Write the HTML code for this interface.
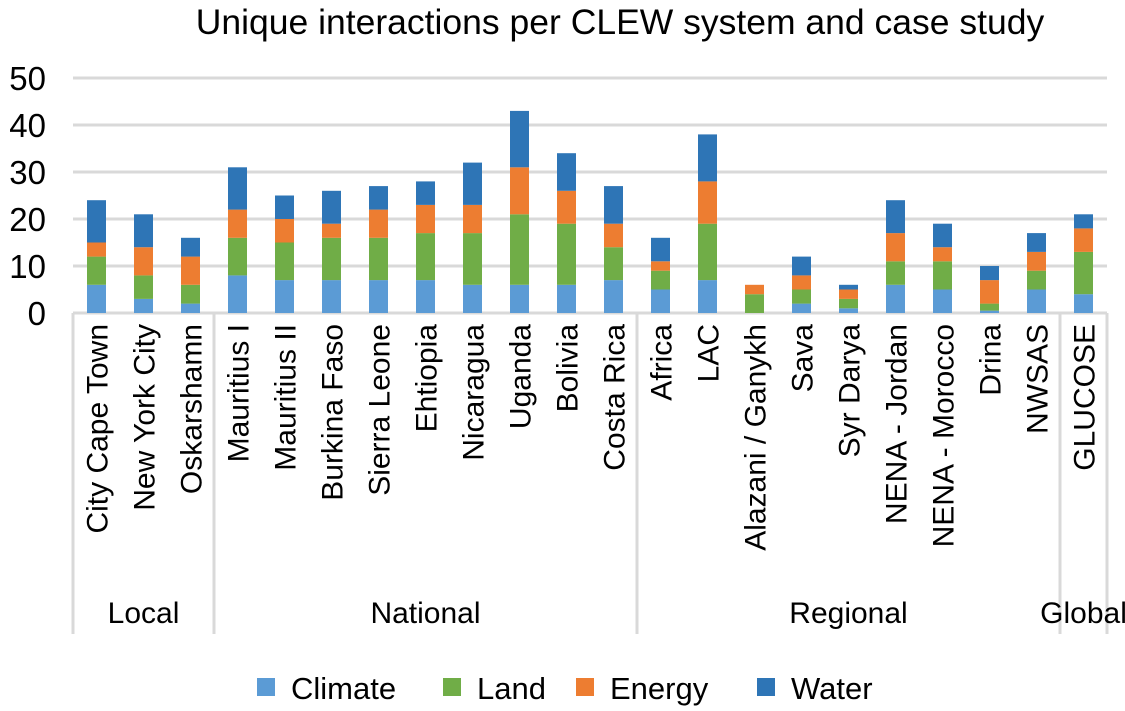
<!DOCTYPE html>
<html><head><meta charset="utf-8"><style>
body{margin:0;background:#fff}
svg text{font-family:"Liberation Sans",sans-serif;fill:#000}
</style></head><body>
<svg id="chart" width="1125" height="706">
<text x="620" y="34" font-size="35.5" text-anchor="middle">Unique interactions per CLEW system and case study</text>
<g id="grid"></g><g id="bars"></g><g id="xlab"></g>
</svg>
<script>
const categories=["City Cape Town","New York City","Oskarshamn","Mauritius I","Mauritius II","Burkina Faso","Sierra Leone","Ehtiopia","Nicaragua","Uganda","Bolivia","Costa Rica","Africa","LAC","Alazani / Ganykh","Sava","Syr Darya","NENA - Jordan","NENA - Morocco","Drina","NWSAS","GLUCOSE"];
const climate=[6,3,2,8,7,7,7,7,6,6,6,7,5,7,0,2,1,6,5,0.5,5,4];
const land=[6,5,4,8,8,9,9,10,11,15,13,7,4,12,4,3,2,5,6,1.5,4,9];
const energy=[3,6,6,6,5,3,6,6,6,10,7,5,2,9,2,3,2,6,3,5,4,5];
const water=[9,7,4,9,5,7,5,5,9,12,8,8,5,10,0,4,1,7,5,3,4,3];
const yTicks=[0,10,20,30,40,50];
const groups=[["Local",3],["National",9],["Regional",9],["Global",1]];
const seriesNames=["Climate","Land","Energy","Water"];
const colors=["#5b9bd5","#70ad47","#ed7d31","#2e75b6"];
const NS="http://www.w3.org/2000/svg";
const X0=73,CW=47,Y0=313,PU=4.7,BW=19;
const y=v=>Y0-v*PU, xc=i=>X0+CW*(i+0.5);
function el(t,a,p){const e=document.createElementNS(NS,t);for(const k in a)e.setAttribute(k,a[k]);p.appendChild(e);return e;}
const svg=document.getElementById('chart'),grid=document.getElementById('grid'),bars=document.getElementById('bars'),xl=document.getElementById('xlab');
const XE=X0+CW*categories.length;
yTicks.forEach(t=>{
 const l=el('line',{x1:X0,x2:XE,y1:y(t),y2:y(t),stroke:'#d9d9d9','stroke-width':3},grid);
 
 
 const tx=el('text',{x:46,y:y(t)+12,'font-size':33,'text-anchor':'end'},grid);tx.textContent=t;
 
 
});
const series=[climate,land,energy,water];
categories.forEach((c,i)=>{
 let acc=0;
 series.forEach((s,k)=>{
  const v=s[i]; if(v<=0)return;
  const r=el('rect',{x:xc(i)-BW/2,y:y(acc+v),width:BW,height:v*PU,fill:colors[k]},bars);
  
  
  acc+=v;
 });
 const t=el('text',{transform:`translate(${xc(i)+11},324) rotate(-90)`,'font-size':30,'text-anchor':'end'},xl);
 t.textContent=c;
 
 
});
let gi=0;
const bounds=[0];
groups.forEach(([g,n])=>{
 const a=X0+CW*gi,b=X0+CW*(gi+n);
 const t=el('text',{x:(a+b)/2,y:623,'font-size':30,'text-anchor':'middle'},xl);t.textContent=g;
 
 
 gi+=n;bounds.push(gi);
});
bounds.forEach(b=>{
 const l=el('line',{x1:X0+CW*b,x2:X0+CW*b,y1:Y0,y2:634,stroke:'#d9d9d9','stroke-width':3},grid);
 
 
});
const lx=[257,443,576,757];
seriesNames.forEach((n,k)=>{
 const g=el('g',{},svg);
 
 
 el('rect',{x:lx[k],y:678,width:18,height:18,fill:colors[k]},g);
 const t=el('text',{x:lx[k]+34,y:699,'font-size':31},g);t.textContent=n;
});
</script>
</body></html>
